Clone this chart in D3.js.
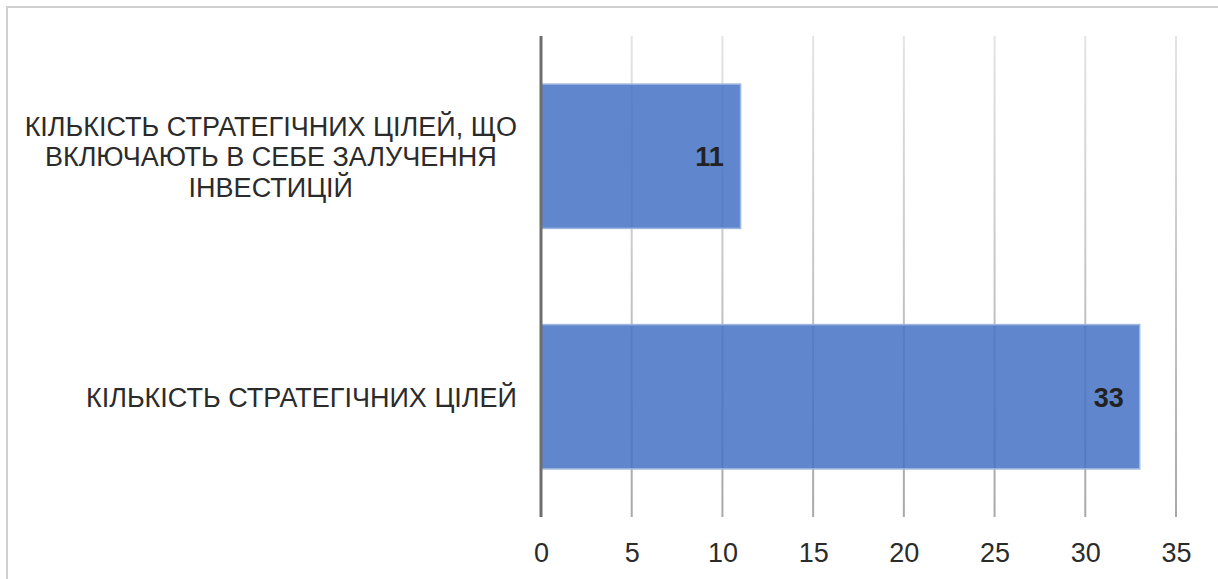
<!DOCTYPE html>
<html><head><meta charset="utf-8">
<script src="https://cdn.jsdelivr.net/npm/d3@7"></script>
<style>body{margin:0;background:#fff}svg{display:block;font-family:"Liberation Sans",Arial,sans-serif}</style>
</head><body>
<svg id="c" width="1218" height="579"></svg>
<script>
const categories = ["КІЛЬКІСТЬ СТРАТЕГІЧНИХ ЦІЛЕЙ, ЩО ВКЛЮЧАЮТЬ В СЕБЕ ЗАЛУЧЕННЯ ІНВЕСТИЦІЙ", "КІЛЬКІСТЬ СТРАТЕГІЧНИХ ЦІЛЕЙ"];
const values = [11, 33];
const xTicks = [0, 5, 10, 15, 20, 25, 30, 35];

(function () {
const svg = d3.select("#c");
const W = 1218, H = 579, FS = 27;
svg.append("rect").attr("x", 7).attr("y", 7).attr("width", W + 10).attr("height", H + 10)
  .attr("fill", "#fff").attr("stroke", "#d0d0d0").attr("stroke-width", 2);

const pL = 541, pR = 1176, pT = 36, pB = 517;
const x = d3.scaleLinear().domain([0, 35]).range([pL, pR]);
const y = d3.scaleBand().domain(categories).range([pT, pB]).paddingInner(0).paddingOuter(0);

const defs = svg.append("defs");
const g = defs.append("linearGradient").attr("id", "gg").attr("gradientUnits", "userSpaceOnUse")
  .attr("x1", 0).attr("y1", pT).attr("x2", 0).attr("y2", pB);
g.append("stop").attr("offset", 0).attr("stop-color", "#e4e4e4");
g.append("stop").attr("offset", 1).attr("stop-color", "#a8a8a8");

// gridlines
svg.append("g").selectAll("line").data(xTicks.filter(d => d > 0)).join("line")
  .attr("x1", d => x(d)).attr("x2", d => x(d)).attr("y1", pT).attr("y2", pB)
  .attr("stroke", "url(#gg)").attr("stroke-width", 2);

// bars
const bh = y.bandwidth() * 0.6;
svg.append("g").selectAll("rect").data(values).join("rect")
  .attr("x", x(0)).attr("y", (d, i) => y(categories[i]) + (y.bandwidth() - bh) / 2)
  .attr("width", d => x(d) - x(0)).attr("height", bh)
  .attr("fill", "#4472c4").attr("fill-opacity", 0.85)
  .attr("stroke", "#9db5e0").attr("stroke-width", 1.5);

// data labels
svg.append("g").selectAll("text").data(values).join("text")
  .attr("x", d => x(d) - 31).attr("y", (d, i) => y(categories[i]) + y.bandwidth() / 2 + 10)
  .attr("text-anchor", "middle").attr("font-size", FS).attr("font-weight", "bold")
  .attr("fill", "#222").text(d => d);

// axis line
svg.append("line").attr("x1", pL).attr("x2", pL).attr("y1", pT).attr("y2", pB)
  .attr("stroke", "#6e6e6e").attr("stroke-width", 3);

// x axis labels
const xa = svg.append("g").attr("transform", `translate(0,${pB})`)
  .call(d3.axisBottom(x).tickValues(xTicks).tickSize(0).tickPadding(0));
xa.select(".domain").remove();
xa.selectAll("text").attr("font-size", FS).attr("fill", "#2b2b2b")
  .attr("font-family", "Liberation Sans, Arial, sans-serif").attr("dy", null).attr("y", 45);

// category labels (wrapped, block right-aligned at 517, lines centered)
const lg = svg.append("g");
const maxW = 505, lh = 30.5, labelRight = 517;
categories.forEach((cat, i) => {
  const words = cat.split(" ");
  const tmp = lg.append("text").attr("font-size", FS);
  const lines = []; let cur = "";
  words.forEach(w => {
    const t = cur ? cur + " " + w : w;
    tmp.text(t);
    if (tmp.node().getComputedTextLength() > maxW && cur) { lines.push(cur); cur = w; }
    else cur = t;
  });
  lines.push(cur);
  const widths = lines.map(l => { tmp.text(l); return tmp.node().getComputedTextLength(); });
  tmp.remove();
  const bw = d3.max(widths);
  const cx = labelRight - bw / 2;
  const cy = y(cat) + y.bandwidth() / 2;
  const t = lg.append("text").attr("font-size", FS).attr("fill", "#2b2b2b").attr("text-anchor", "middle");
  lines.forEach((l, j) => {
    t.append("tspan").attr("x", cx).attr("y", cy + (j - (lines.length - 1) / 2) * lh + 10).text(l);
  });
});
})();
</script>
</body></html>
